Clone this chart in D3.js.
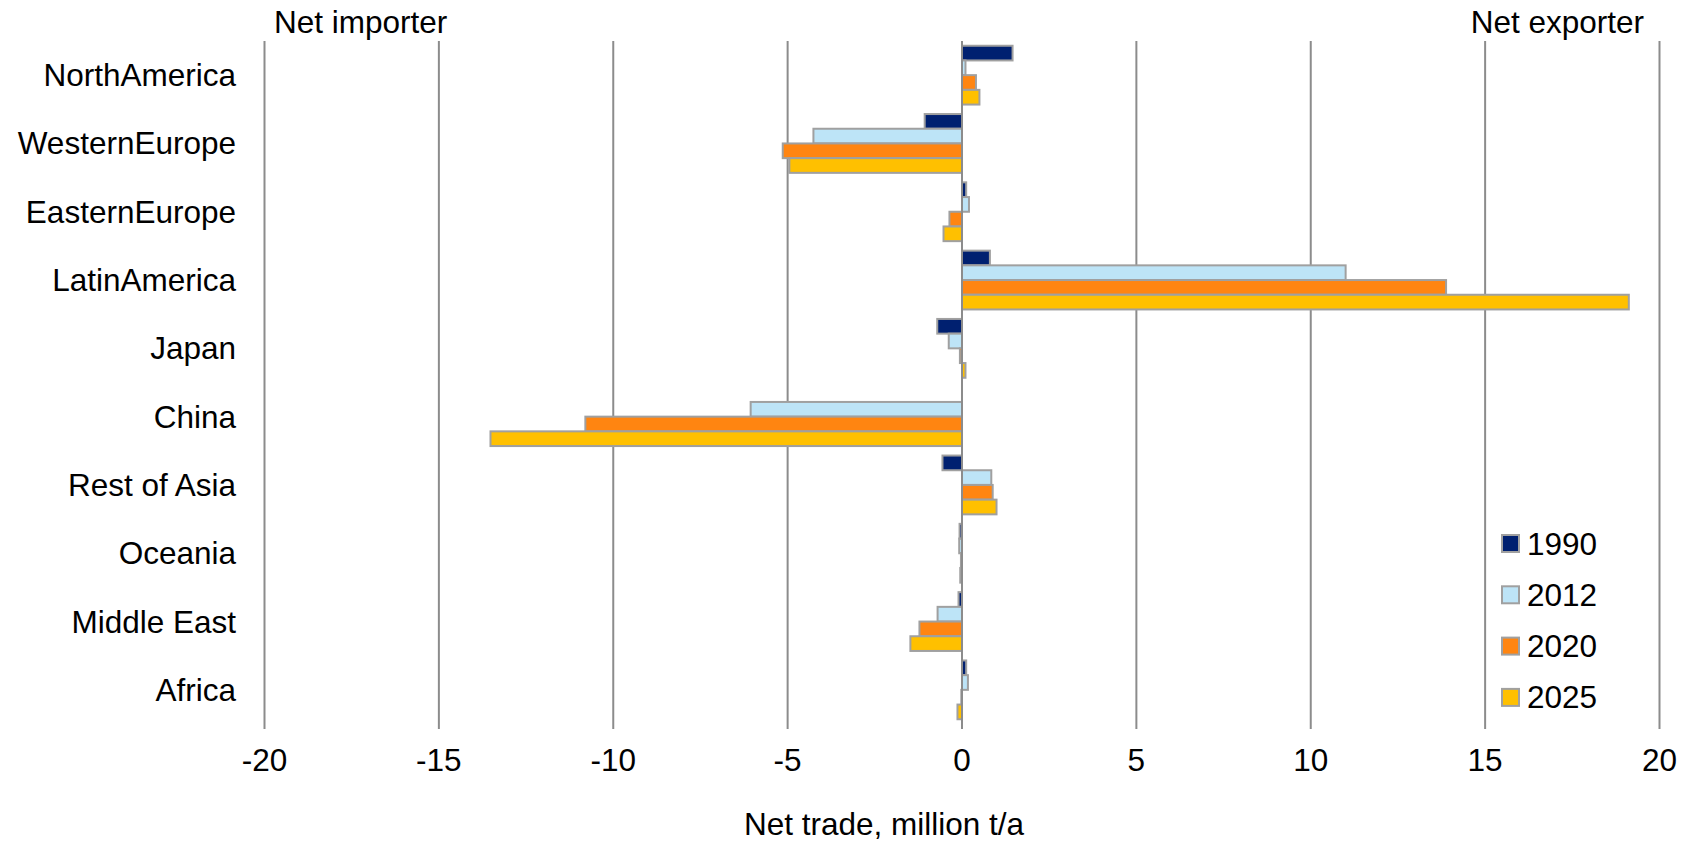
<!DOCTYPE html>
<html>
<head>
<meta charset="utf-8">
<script src="https://cdn.jsdelivr.net/npm/d3@7/dist/d3.min.js"></script>
<style>
  html, body { margin: 0; padding: 0; background: #fff; }
  svg text { font-family: "Liberation Sans", Arial, sans-serif; fill: #000; }
</style>
</head>
<body>
<svg id="chart" width="1694" height="842"></svg>
<script>
// Regions, top to bottom
const regions = ["NorthAmerica", "WesternEurope", "EasternEurope", "LatinAmerica", "Japan",
                 "China", "Rest of Asia", "Oceania", "Middle East", "Africa"];
const years = ["1990", "2012", "2020", "2025"];

// Net trade, million t/a, per region
const v1990 = [1.45, -1.07, 0.12, 0.8, -0.71, 0, -0.56, -0.07, -0.1, 0.12];
const v2012 = [0.1, -4.26, 0.2, 11.0, -0.38, -6.06, 0.84, -0.08, -0.7, 0.17];
const v2020 = [0.4, -5.14, -0.36, 13.88, -0.06, -10.8, 0.88, -0.03, -1.22, -0.02];
const v2025 = [0.5, -4.95, -0.53, 19.12, 0.1, -13.52, 0.99, -0.05, -1.48, -0.13];

const xTicks = [-20, -15, -10, -5, 0, 5, 10, 15, 20];
const colors = ["#002070", "#bde4f7", "#ff8511", "#ffc000"];

const seriesValues = [v1990, v2012, v2020, v2025];

(function draw() {
  const svg = d3.select("#chart");
  const mLeft = 264.5, mRight = 1659.5, mTop = 41, mBottom = 724;
  const fs = 31.5;

  const x = d3.scaleLinear().domain([-20, 20]).range([mLeft, mRight]);
  const y = d3.scaleBand().domain(regions).range([mTop, mBottom])
    .paddingInner(0.139).paddingOuter(0.0695);
  const ySub = d3.scaleBand().domain(years).range([0, y.bandwidth()]);

  // Vertical gridlines with small ticks below
  svg.append("g").selectAll("line").data(xTicks).join("line")
    .attr("x1", d => x(d)).attr("x2", d => x(d))
    .attr("y1", mTop).attr("y2", mBottom + 5)
    .attr("stroke", "#8c8c8c").attr("stroke-width", 2);

  // Tick labels
  svg.append("g").selectAll("text").data(xTicks).join("text")
    .attr("x", d => x(d)).attr("y", 771)
    .attr("text-anchor", "middle").attr("font-size", fs)
    .text(d => d);

  // Bars
  const rows = [];
  regions.forEach((r, i) => years.forEach((yr, j) => rows.push({ region: r, year: yr, j, v: seriesValues[j][i] })));

  svg.append("g").selectAll("rect").data(rows).join("rect")
    .attr("x", d => x(Math.min(0, d.v)))
    .attr("width", d => Math.abs(x(d.v) - x(0)))
    .attr("y", d => y(d.region) + ySub(d.year))
    .attr("height", ySub.bandwidth())
    .attr("fill", d => colors[d.j])
    .attr("stroke", "#a0a0a0").attr("stroke-width", 2);

  // Zero line on top
  svg.append("line")
    .attr("x1", x(0)).attr("x2", x(0)).attr("y1", mTop).attr("y2", mBottom + 5)
    .attr("stroke", "#8c8c8c").attr("stroke-width", 2);

  // Category labels
  svg.append("g").selectAll("text").data(regions).join("text")
    .attr("x", 236).attr("y", d => y(d) + y.bandwidth() / 2)
    .attr("dy", "0.35em").attr("text-anchor", "end").attr("font-size", fs)
    .text(d => d);

  // Side headings
  svg.append("text").attr("x", 274).attr("y", 33).attr("font-size", fs).text("Net importer");
  svg.append("text").attr("x", 1644).attr("y", 33).attr("text-anchor", "end").attr("font-size", fs).text("Net exporter");

  // Axis title
  svg.append("text").attr("x", 884).attr("y", 835).attr("text-anchor", "middle").attr("font-size", fs)
    .text("Net trade, million t/a");

  // Legend
  const legend = svg.append("g").selectAll("g").data(years).join("g")
    .attr("transform", (d, i) => `translate(1502, ${535 + i * 51.3})`);
  legend.append("rect").attr("width", 17).attr("height", 17)
    .attr("fill", (d, i) => colors[i]).attr("stroke", "#a0a0a0").attr("stroke-width", 2);
  legend.append("text").attr("x", 25).attr("y", 8.5).attr("dy", "0.35em")
    .attr("font-size", fs).text(d => d);
})();
</script>
</body>
</html>
